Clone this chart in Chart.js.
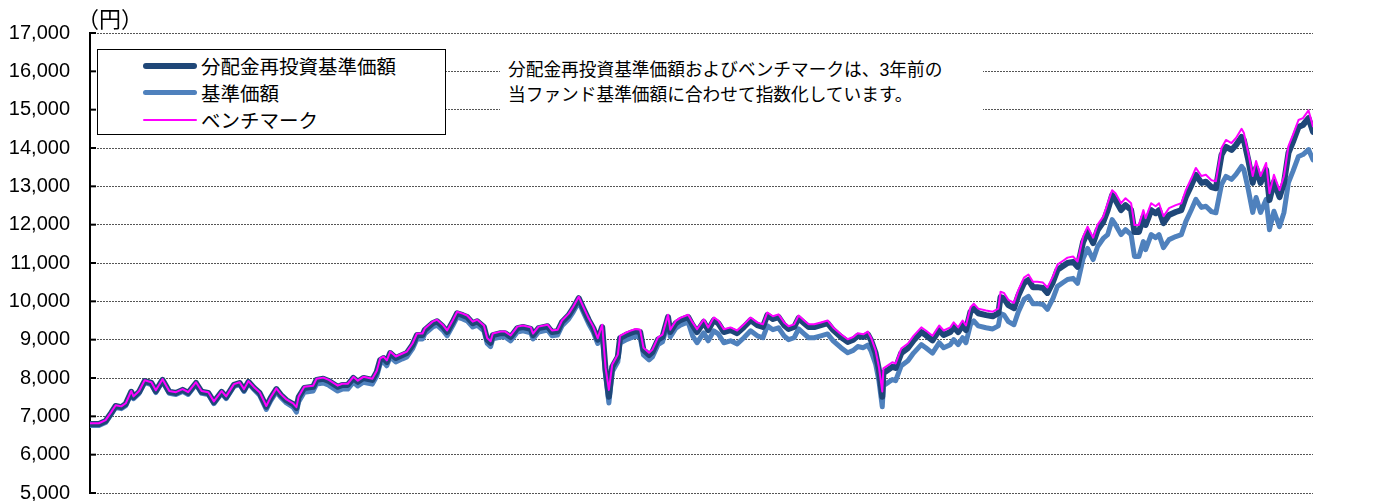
<!DOCTYPE html>
<html lang="ja">
<head>
<meta charset="utf-8">
<script src="https://cdn.jsdelivr.net/npm/chart.js@4.4.1/dist/chart.umd.min.js"></script>
<style>
  body { margin: 0; background: #fff; overflow: hidden; }
  #wrap { position: relative; width: 1389px; height: 501px; overflow: hidden; }
  #navChart { position: absolute; left: 0; top: 0; }
  .jp { font-family: "Liberation Sans", "Noto Sans CJK JP", sans-serif; color: #000; }
  #legend {
    position: absolute; left: 97px; top: 49px; width: 347px; height: 84px;
    border: 1px solid #000; background: #fff;
  }
  #legend .row { position: absolute; left: 45px; height: 27px; display: flex; align-items: center; font-size: 19.5px; }
  #legend .swatch { width: 54px; margin-right: 4px; border-radius: 3px; }
  #note {
    position: absolute; left: 500px; top: 58px; width: 483px; height: 52px;
    background: #fff; font-size: 17.7px; line-height: 25px; padding-left: 8px; box-sizing: border-box;
  }
  #unit { position: absolute; left: 77px; top: 1px; font-size: 22px; font-family: "Noto Sans CJK JP", sans-serif; }
</style>
</head>
<body>
<div id="wrap">
  <canvas id="navChart" width="1389" height="525"></canvas>
  <div id="unit">（円）</div>
  <div id="legend" class="jp"></div>
  <div id="note" class="jp">分配金再投資基準価額およびベンチマークは、3年前の<br>当ファンド基準価額に合わせて指数化しています。</div>
</div>
<script>
// values (day offset from start of the 3-year window)
const days = [0, 8, 14, 19, 23, 28, 32, 37, 39, 44, 49, 55, 59, 65, 71, 77, 83, 88, 95, 100,
  106, 111, 118, 122, 129, 134, 138, 142, 147, 152, 158, 162, 167, 171, 176, 182, 185, 187,
  192, 200, 203, 209, 214, 222, 226, 231, 236, 240, 245, 253, 257,
  260, 263, 266, 269, 274, 280, 284, 289, 293, 298, 300, 307, 311, 316, 320, 325, 329, 334,
  338, 343, 347, 353, 356, 359, 361, 368, 372, 377, 383, 388, 395, 397, 402, 410, 414, 419,
  423, 429, 433, 438, 442, 447, 451, 455,
  459, 462, 465, 468, 473, 475, 480, 484, 489, 493, 496, 501, 504, 509, 513, 518, 520, 525, 529, 536,
  540, 544, 550, 554, 559, 563, 568, 574, 580, 586, 592, 598, 603, 607, 612, 617, 622, 626,
  631, 635, 640, 644, 649, 655, 661, 666, 673, 679, 684, 688, 693, 697, 700, 704, 707,
  710, 711, 715, 719, 722, 727, 733, 738, 745, 749, 755, 761, 765, 771, 774, 778, 782, 785,
  789, 792, 796, 803, 809, 814,
  816, 819, 823, 828, 832, 837, 841, 845, 849, 854, 858, 863, 867, 872, 876, 881, 885, 890,
  894, 899, 903, 908,
  912, 916, 919, 924, 928, 933, 936, 940, 944, 946, 951, 955, 958, 962, 967, 973, 978, 982,
  987, 991, 996, 1000, 1005, 1009,
  1014, 1018, 1023, 1027, 1032, 1034, 1038, 1042, 1045, 1049, 1054, 1057, 1061, 1066, 1070,
  1074, 1078, 1083, 1087, 1092, 1096];

const reinvested = [6800, 6800, 6880, 7090, 7270, 7240, 7320, 7640, 7500, 7640, 7920, 7870, 7660, 7950, 7640, 7610, 7690, 7610, 7870, 7640,
  7610, 7370, 7640, 7500, 7820, 7870, 7690, 7900, 7740, 7610, 7250, 7480, 7710, 7560, 7420, 7320, 7220, 7500,
  7740, 7770, 7950, 7980, 7920, 7770, 7820, 7820, 8000, 7900, 8000, 7950, 8160,
  8470, 8520, 8420, 8650, 8520, 8600, 8650, 8860, 9120, 9120, 9250, 9430, 9480, 9350, 9200, 9460, 9690, 9640,
  9590, 9430, 9480, 9330, 9000, 8920, 9120, 9170, 9170, 9070, 9300, 9330, 9280, 9120, 9300, 9350, 9200, 9220,
  9460, 9640, 9820, 10080, 9820, 9510, 9300, 9000,
  9330, 8210, 7510, 8290, 8550, 9040, 9120, 9170, 9220, 9200, 8730, 8600, 8680, 9000, 9070, 9590, 9200, 9430, 9510, 9590,
  9380, 9200, 9460, 9250, 9510, 9430, 9200, 9250, 9170, 9330, 9510, 9380, 9330, 9640, 9540, 9590, 9380, 9280,
  9330, 9560, 9430, 9330, 9330, 9380, 9430, 9250, 9070, 8940, 9000, 9100, 9070, 9140, 8980, 8650, 8210,
  7510, 8130, 8210, 8290, 8260, 8650, 8780, 8980, 9200, 9120, 8980, 9250, 9120, 9200, 9330, 9200, 9380, 9250,
  9720, 9820, 9690, 9640, 9610, 9690,
  10110, 10080, 9900, 9820, 10160, 10480, 10560, 10370, 10370, 10350, 10220, 10510, 10820, 10920, 11000, 11030, 10900, 11550,
  11810, 11520, 11860, 12070,
  12380, 12770, 12640, 12380, 12510, 12380, 11810, 11810, 12200, 11990, 12380, 12300, 12380, 12040, 12250, 12330, 12380, 12720,
  13030, 13300, 13090, 13120, 12980, 12950,
  13820, 14030, 13950, 14080, 14290, 14210, 13690, 13090, 13480, 13090, 13430, 12640, 13120, 12720, 13090,
  13870, 14160, 14550, 14600, 14780, 14420];

const nav = [6760, 6760, 6840, 7050, 7230, 7200, 7280, 7600, 7460, 7600, 7880, 7830, 7620, 7910, 7600, 7570, 7650, 7570, 7830, 7600,
  7570, 7330, 7600, 7460, 7780, 7830, 7650, 7860, 7700, 7550, 7180, 7410, 7640, 7490, 7350, 7240, 7110, 7380,
  7630, 7660, 7840, 7870, 7810, 7660, 7710, 7710, 7890, 7790, 7890, 7840, 8050,
  8370, 8420, 8320, 8550, 8420, 8500, 8550, 8760, 9020, 9020, 9150, 9330, 9380, 9250, 9100, 9360, 9590, 9540,
  9490, 9330, 9380, 9230, 8900, 8820, 9020, 9070, 9070, 8970, 9200, 9230, 9180, 9020, 9200, 9250, 9100, 9120,
  9360, 9540, 9720, 9980, 9720, 9410, 9200, 8900,
  9200, 8080, 7350, 8160, 8420, 8910, 8990, 9040, 9090, 9070, 8600, 8470, 8550, 8870, 8940, 9460, 9070, 9300, 9380, 9460,
  9100, 8920, 9180, 8970, 9230, 9150, 8920, 8970, 8890, 9050, 9230, 9100, 9050, 9360, 9260, 9310, 9100, 9000,
  9050, 9280, 9150, 9050, 9050, 9100, 9150, 8970, 8790, 8660, 8720, 8820, 8790, 8860, 8700, 8370, 7930,
  7250, 7800, 7880, 7960, 7930, 8320, 8450, 8650, 8870, 8790, 8650, 8920, 8790, 8870, 9000, 8870, 9050, 8920,
  9390, 9490, 9360, 9310, 9280, 9360,
  9680, 9650, 9470, 9390, 9730, 10050, 10130, 9940, 9940, 9920, 9790, 10080, 10390, 10490, 10570, 10600, 10470, 11120,
  11380, 11090, 11430, 11640,
  11740, 12130, 12000, 11740, 11870, 11740, 11170, 11170, 11560, 11350, 11740, 11660, 11740, 11400, 11610, 11690, 11740, 12080,
  12390, 12660, 12450, 12480, 12340, 12310,
  13050, 13260, 13180, 13310, 13520, 13440, 12920, 12320, 12710, 12320, 12660, 11870, 12350, 11950, 12320,
  13100, 13390, 13780, 13830, 13960, 13690];

const benchmark = [6820, 6820, 6900, 7110, 7290, 7260, 7340, 7660, 7520, 7660, 7940, 7890, 7680, 7970, 7660, 7630, 7710, 7630, 7890, 7660,
  7630, 7390, 7660, 7520, 7840, 7890, 7710, 7920, 7760, 7630, 7270, 7500, 7730, 7580, 7440, 7340, 7240, 7520,
  7770, 7800, 7980, 8010, 7950, 7800, 7850, 7850, 8030, 7930, 8030, 7980, 8190,
  8510, 8560, 8460, 8690, 8560, 8640, 8690, 8900, 9160, 9160, 9290, 9470, 9520, 9390, 9240, 9500, 9730, 9680,
  9630, 9470, 9520, 9370, 9040, 8960, 9160, 9210, 9210, 9110, 9340, 9370, 9320, 9160, 9340, 9390, 9240, 9260,
  9500, 9680, 9860, 10120, 9860, 9550, 9340, 9040,
  9390, 8270, 7690, 8350, 8610, 9100, 9180, 9230, 9280, 9260, 8790, 8660, 8740, 9060, 9130, 9650, 9260, 9490, 9570, 9650,
  9450, 9270, 9530, 9320, 9580, 9500, 9270, 9320, 9240, 9400, 9580, 9450, 9400, 9710, 9610, 9660, 9450, 9350,
  9400, 9630, 9500, 9400, 9400, 9450, 9500, 9320, 9140, 9010, 9070, 9170, 9140, 9210, 9050, 8720, 8280,
  7650, 8250, 8330, 8410, 8380, 8770, 8900, 9100, 9320, 9240, 9100, 9370, 9240, 9320, 9450, 9320, 9500, 9370,
  9840, 9940, 9810, 9760, 9730, 9810,
  10250, 10220, 10040, 9960, 10300, 10620, 10700, 10510, 10510, 10490, 10360, 10650, 10960, 11060, 11140, 11170, 11040, 11690,
  11950, 11660, 12000, 12210,
  12560, 12900, 12820, 12560, 12690, 12560, 11990, 11990, 12380, 12170, 12560, 12480, 12560, 12220, 12430, 12510, 12560, 12900,
  13210, 13480, 13270, 13300, 13160, 13130,
  14000, 14210, 14130, 14260, 14500, 14400, 13870, 13270, 13660, 13270, 13610, 12820, 13300, 12900, 13270,
  14050, 14340, 14730, 14780, 14980, 14560];

const yTicks = { min: 5000, max: 17000, step: 1000 };
const seriesNames = ['分配金再投資基準価額', '基準価額', 'ベンチマーク'];
const colors = { reinvested: '#1f4778', nav: '#4f81bd', benchmark: '#ff00ff' };

function toPoints(values) {
  return values.map((v, i) => ({ x: days[i], y: v }));
}

// HTML legend with framed box like the original
const legendEl = document.getElementById('legend');
[
  { name: seriesNames[0], color: colors.reinvested, width: 6 },
  { name: seriesNames[1], color: colors.nav, width: 5 },
  { name: seriesNames[2], color: colors.benchmark, width: 2 }
].forEach((item, i) => {
  const row = document.createElement('div');
  row.className = 'row';
  row.style.top = (2 + i * 27) + 'px';
  const sw = document.createElement('span');
  sw.className = 'swatch';
  sw.style.height = item.width + 'px';
  sw.style.background = item.color;
  row.appendChild(sw);
  row.appendChild(document.createTextNode(item.name));
  legendEl.appendChild(row);
});

// short inward tick marks on the value axis
const innerTicks = {
  id: 'innerTicks',
  beforeDatasetsDraw(chart) {
    const { ctx, chartArea, scales: { y } } = chart;
    ctx.save();
    ctx.strokeStyle = '#000';
    ctx.lineWidth = 2;
    y.ticks.forEach(t => {
      const py = y.getPixelForValue(t.value);
      ctx.beginPath();
      ctx.moveTo(chartArea.left, py);
      ctx.lineTo(chartArea.left + 6, py);
      ctx.stroke();
    });
    ctx.restore();
  }
};

new Chart(document.getElementById('navChart'), {
  type: 'line',
  data: {
    datasets: [
      {
        label: seriesNames[2],
        data: toPoints(benchmark),
        borderColor: colors.benchmark,
        borderWidth: 2
      },
      {
        label: seriesNames[0],
        data: toPoints(reinvested),
        borderColor: colors.reinvested,
        borderWidth: 6
      },
      {
        label: seriesNames[1],
        data: toPoints(nav),
        borderColor: colors.nav,
        borderWidth: 5
      }
    ]
  },
  options: {
    responsive: false,
    animation: false,
    devicePixelRatio: 1,
    layout: { padding: { top: 33, left: 0, right: 76, bottom: 10 } },
    elements: {
      point: { radius: 0 },
      line: { tension: 0, borderJoinStyle: 'round', borderCapStyle: 'round' }
    },
    plugins: {
      legend: { display: false },
      tooltip: { enabled: false }
    },
    scales: {
      x: {
        type: 'linear',
        min: 0,
        max: days[days.length - 1],
        display: false
      },
      y: {
        min: yTicks.min,
        max: yTicks.max,
        afterFit: scale => { scale.width = 90; },
        ticks: {
          stepSize: yTicks.step,
          padding: 20,
          color: '#000',
          font: { family: 'Liberation Sans', size: 20 },
          callback: v => v.toLocaleString('en-US')
        },
        grid: { color: '#555', lineWidth: 1, drawTicks: false },
        border: { display: true, color: '#000', width: 2, dash: [2, 1] }
      }
    }
  },
  plugins: [innerTicks]
});
</script>
</body>
</html>
